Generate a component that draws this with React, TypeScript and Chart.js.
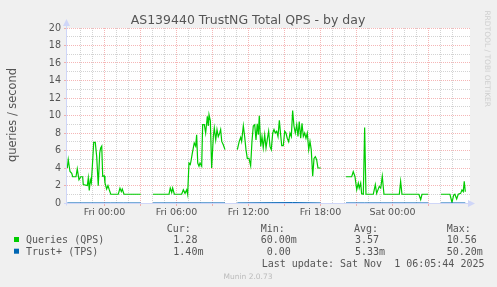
import React, { useEffect, useRef } from "react";
import { Chart, registerables } from "chart.js";

Chart.register(...registerables);

const TITLE = "AS139440 TrustNG Total QPS - by day";
const Y_TITLE = "queries / second";
const WATERMARK = "RRDTOOL / TOBI OETIKER";
const FOOTER = "Munin 2.0.73";
const LAST_UPDATE = "Last update: Sat Nov  1 06:05:44 2025";

// time axis in hours relative to Fri 00:00
const X_START = -3.125;
const X_END = 30.46;
const X_TICK_HOURS = [0, 6, 12, 18, 24, 30];
const X_TICK_LABELS = ["Fri 00:00", "Fri 06:00", "Fri 12:00", "Fri 18:00", "Sat 00:00", "Sat 06:00"];
const Y_MIN = 0;
const Y_MAX = 20;

// Queries (QPS): null marks a gap in the data
const queryHours = [
  -3.1, -3.02, -2.875, -2.73, -2.65, -2.375, -2.27, -2.125, -1.98, -1.82, -1.77, -1.43, -1.35, -1.27, -1.18, -1.1,
  -1.02, -0.9, -0.77, -0.65, -0.52, -0.4, -0.32, -0.23, -0.15, -0.02, 0.04, 0.18, 0.29, 0.4, 0.52, 1.15, 1.29, 1.4,
  1.48, 1.625, 3.02, 3.5,
  4.04, 5.375, 5.48, 5.6, 5.68, 5.82, 6.43, 6.57, 6.71, 6.85, 6.93, 7.04, 7.15, 7.21, 7.32, 7.48, 7.6, 7.68, 7.77,
  7.875, 7.96, 8.1, 8.18, 8.32, 8.43, 8.57, 8.65, 8.71, 8.82, 8.93, 9.07, 9.15, 9.27, 9.375, 9.48, 9.6, 9.68, 9.77,
  9.9, 10.04, 10.5,
  11.07, 11.23, 11.35, 11.43, 11.57, 11.68, 11.79, 11.9, 12.04, 12.18, 12.29, 12.4, 12.52, 12.625, 12.73, 12.82,
  12.9, 13.02, 13.125, 13.23, 13.35, 13.46, 13.57, 13.68, 13.79, 13.9, 14.02, 14.125, 14.23, 14.35, 14.46, 14.57,
  14.68, 14.77, 14.9, 15.02, 15.125, 15.23, 15.35, 15.46, 15.57, 15.68, 15.79, 15.9, 16.02, 16.125, 16.23, 16.35,
  16.46, 16.57, 16.68, 16.79, 16.9, 17.02, 17.125, 17.23, 17.35, 17.46, 17.57, 17.68, 17.79, 18.02, 19,
  20.125, 20.6, 20.73, 20.875, 21.02, 21.15, 21.23, 21.35, 21.43, 21.57, 21.68, 21.79, 22.4, 22.57, 22.68, 22.79,
  22.9, 23.02, 23.15, 23.29, 24.57, 24.68, 24.79, 26.2, 26.35, 26.46, 26.98, 27.5,
  28.04, 28.79, 28.96, 29.1, 29.2, 29.35, 29.48, 29.68, 29.79, 29.9, 29.98, 30.07,
];
const queryValues = [
  4.0, 4.95, 3.6, 3.4, 3.0, 3.0, 3.9, 2.66, 3.0, 3.0, 2.1, 2.0, 2.86, 1.44, 2.66, 2.3,
  4.0, 6.93, 6.93, 5.3, 1.98, 5.7, 6.3, 6.5, 3.05, 3.1, 2.3, 1.6, 2.0, 1.5, 1.0, 1.0, 1.7, 1.3,
  1.6, 1.0, 1.0, null,
  1.0, 1.0, 1.7, 1.2, 1.7, 1.0, 1.0, 1.5, 1.1, 1.5, 1.0, 4.57, 4.4, 4.8, 5.7, 6.86, 6.5, 7.8, 4.57,
  4.2, 4.57, 4.2, 8.95, 8.95, 8.0, 9.9, 8.8, 10.1, 9.4, 4.0, 7.6, 8.57, 7.2, 8.4, 7.6, 8.0, 8.4, 7.04,
  6.66, 6.1, null,
  6.1, 7.04, 7.5, 7.04, 8.83, 7.6, 6.1, 5.1, 5.1, 4.26, 7.04, 8.8, 8.95, 7.2, 9.06, 7.8,
  9.98, 6.47, 7.6, 6.3, 7.8, 6.3, 7.3, 8.2, 6.47, 6.1, 8.0, 8.4, 8.0, 8.2, 7.6, 9.44,
  7.8, 6.55, 6.55, 8.2, 8.0, 7.4, 7.0, 8.0, 7.6, 10.56, 8.8, 8.0, 8.95, 7.6, 9.3, 7.4,
  9.1, 7.6, 8.0, 7.4, 8.0, 6.1, 7.04, 6.1, 3.05, 5.1, 5.3, 4.95, 4.0, 4.0, null,
  3.0, 3.0, 3.58, 3.0, 1.52, 2.28, 1.7, 2.28, 1.06, 1.0, 8.64, 1.0, 1.0, 2.1, 1.1, 1.5,
  1.9, 1.7, 3.05, 1.0, 1.0, 2.47, 1.0, 1.0, 0.38, 1.0, 1.0, null,
  1.0, 1.0, 0.06, 0.9, 1.0, 0.46, 1.0, 1.1, 1.5, 1.3, 2.47, 1.28,
];

// Trust+ (TPS): tiny values, same gaps
const tpsHours = [-3.1, 0.5, 1.6, 3.02, 3.5, 4.04, 7.0, 10.04, 10.5, 11.07, 15.68, 18.02, 19, 20.125, 21.68, 26.98, 27.5, 28.04, 30.07];
const tpsValues = [0.004, 0.005, 0.003, 0.002, null, 0.002, 0.008, 0.006, null, 0.007, 0.0502, 0.004, null, 0.003, 0.006, 0.002, null, 0.001, 0.0014];

const seriesNames = ["Queries (QPS)", "Trust+ (TPS)"];
const seriesColors = ["#00CC00", "#0066B3"];
const statHeaders = ["Cur:", "Min:", "Avg:", "Max:"];
const curValues = ["1.28", "1.40m"];
const minValues = ["60.00m", "0.00"];
const avgValues = ["3.57", "5.33m"];
const maxValues = ["10.56", "50.20m"];

const TEXT = "#555555";
const MGRID = "rgba(235,110,110,0.5)";
const GRID = "rgba(140,140,140,0.38)";
const AXIS = "#CFD6F8";
const SANS = '"DejaVu Sans"';
const MONO = '"DejaVu Sans Mono"';

const isInt = (v: number) => Math.abs(v - Math.round(v)) < 1e-6;

const muninPlugin = {
  id: "munin",
  beforeDraw(chart: any) {
    const { ctx, chartArea: a, width, height } = chart;
    ctx.save();
    ctx.fillStyle = "#F0F0F0";
    ctx.fillRect(0, 0, width, height);
    ctx.fillStyle = "#FFFFFF";
    ctx.fillRect(a.left, a.top, a.right - a.left, a.bottom - a.top);
    ctx.restore();
  },
  beforeDatasetsDraw(chart: any) {
    const { ctx, chartArea: a } = chart;
    ctx.save();
    ctx.strokeStyle = AXIS;
    ctx.fillStyle = AXIS;
    ctx.lineWidth = 1;
    const ax = a.left - 0.5;
    const ay = a.bottom + 0.5;
    ctx.beginPath();
    ctx.moveTo(ax, ay + 2);
    ctx.lineTo(ax, a.top - 4);
    ctx.moveTo(a.left - 3, ay);
    ctx.lineTo(a.right, ay);
    ctx.stroke();
    // arrows
    ctx.beginPath();
    ctx.moveTo(ax, a.top - 9);
    ctx.lineTo(ax - 3.5, a.top - 2);
    ctx.lineTo(ax + 3.5, a.top - 2);
    ctx.closePath();
    ctx.fill();
    ctx.beginPath();
    ctx.moveTo(a.right + 5, ay);
    ctx.lineTo(a.right - 2, ay - 3.5);
    ctx.lineTo(a.right - 2, ay + 3.5);
    ctx.closePath();
    ctx.fill();
    ctx.restore();
  },
  afterDraw(chart: any) {
    const { ctx } = chart;
    ctx.save();
    ctx.fillStyle = TEXT;
    ctx.textBaseline = "alphabetic";
    // title
    ctx.font = `12.5px ${SANS}`;
    ctx.textAlign = "center";
    ctx.fillText(TITLE, 248, 24);
    // y title
    ctx.save();
    ctx.translate(15.5, 115);
    ctx.rotate(-Math.PI / 2);
    ctx.font = `11.4px ${SANS}`;
    ctx.textAlign = "center";
    ctx.fillText(Y_TITLE, 0, 0);
    ctx.restore();
    // watermark
    ctx.save();
    ctx.translate(485, 107);
    ctx.rotate(Math.PI / 2);
    ctx.font = `7.5px ${SANS}`;
    ctx.fillStyle = "#CFCFCF";
    ctx.textAlign = "right";
    ctx.fillText(WATERMARK, 0, 0);
    ctx.restore();
    // legend table
    ctx.font = `10px ${MONO}`;
    ctx.textAlign = "left";
    const headerX = [166.7, 260.7, 354, 446.7];
    const numRight = [197.4, 290.8, 379, 476.8];
    const rowBase = [242.8, 254.5];
    statHeaders.forEach((h, i) => ctx.fillText(h, headerX[i], 231.5));
    const cols = [curValues, minValues, avgValues, maxValues];
    seriesNames.forEach((name, r) => {
      ctx.fillStyle = seriesColors[r];
      ctx.fillRect(14, rowBase[r] - 5.8, 5, 5);
      ctx.fillStyle = TEXT;
      ctx.textAlign = "left";
      ctx.fillText(name, 26, rowBase[r]);
      cols.forEach((col, c) => {
        const s = col[r];
        const m = s.match(/^([\d.]+)(.*)$/);
        const num = m ? m[1] : s;
        const suf = m ? m[2] : "";
        ctx.textAlign = "right";
        ctx.fillText(num, numRight[c], rowBase[r]);
        if (suf) {
          ctx.textAlign = "left";
          ctx.fillText(suf, numRight[c], rowBase[r]);
        }
      });
    });
    ctx.textAlign = "left";
    ctx.fillText(LAST_UPDATE, 261.7, 266.8);
    // footer
    ctx.font = `7.5px ${SANS}`;
    ctx.fillStyle = "#BBBBBB";
    ctx.textAlign = "center";
    ctx.fillText(FOOTER, 248, 279);
    ctx.restore();
  },
};

export default function App() {
  const ref = useRef<HTMLCanvasElement | null>(null);
  useEffect(() => {
    if (!ref.current) return;
    const chart = new Chart(ref.current, {
      type: "line",
      data: {
        datasets: [
          {
            label: seriesNames[0],
            data: queryHours.map((h, i) => ({ x: h, y: queryValues[i] })),
            borderColor: seriesColors[0],
            borderWidth: 1.2,
            pointRadius: 0,
            tension: 0,
            spanGaps: false,
            order: 1,
          },
          {
            label: seriesNames[1],
            data: tpsHours.map((h, i) => ({ x: h, y: tpsValues[i] })),
            borderColor: seriesColors[1],
            borderWidth: 1,
            pointRadius: 0,
            tension: 0,
            spanGaps: false,
            order: 0,
          },
        ],
      },
      options: {
        animation: false,
        responsive: false,
        devicePixelRatio: 1,
        layout: { padding: { left: 0, right: 27, top: 28, bottom: 0 } },
        plugins: { legend: { display: false }, tooltip: { enabled: false }, title: { display: false } },
        scales: {
          x: {
            type: "linear",
            min: X_START,
            max: X_END,
            afterFit: (s: any) => {
              s.height = 84;
              s.paddingLeft = 0;
              s.paddingRight = 0;
            },
            ticks: {
              stepSize: 1,
              autoSkip: false,
              maxRotation: 0,
              minRotation: 0,
              padding: 1,
              color: TEXT,
              font: { family: "DejaVu Sans", size: 9.5 },
              callback: (v: any) => {
                const i = X_TICK_HOURS.indexOf(Number(v));
                return i >= 0 ? X_TICK_LABELS[i] : "";
              },
            },
            grid: {
              color: (c: any) => (!isInt(c.tick.value) ? "rgba(0,0,0,0)" : Math.round(c.tick.value) % 3 === 0 ? MGRID : GRID),
              tickColor: (c: any) => (isInt(c.tick.value) && Math.round(c.tick.value) % 3 === 0 ? MGRID : "rgba(0,0,0,0)"),
              lineWidth: 1,
              tickLength: 3,
            },
            border: { display: false, dash: [1, 1] },
          },
          y: {
            type: "linear",
            min: Y_MIN,
            max: Y_MAX,
            afterFit: (s: any) => {
              s.width = 67;
              s.paddingTop = 0;
              s.paddingBottom = 0;
            },
            ticks: {
              stepSize: 1,
              autoSkip: false,
              padding: 3,
              color: TEXT,
              font: { family: "DejaVu Sans", size: 9.6 },
              callback: (v: any) => (Number(v) % 2 === 0 ? String(v) : ""),
            },
            grid: {
              color: (c: any) => (Math.round(c.tick.value) % 2 === 0 ? MGRID : GRID),
              tickColor: (c: any) => (Math.round(c.tick.value) % 2 === 0 ? MGRID : "rgba(0,0,0,0)"),
              lineWidth: 1,
              tickLength: 3,
            },
            border: { display: false, dash: [1, 1] },
          },
        },
      },
      plugins: [muninPlugin],
    });
    return () => chart.destroy();
  }, []);
  return (
    <div style={{ position: "absolute", left: 0, top: 0, width: 497, height: 287 }}>
      <canvas ref={ref} width={497} height={287} style={{ display: "block" }} />
    </div>
  );
}
